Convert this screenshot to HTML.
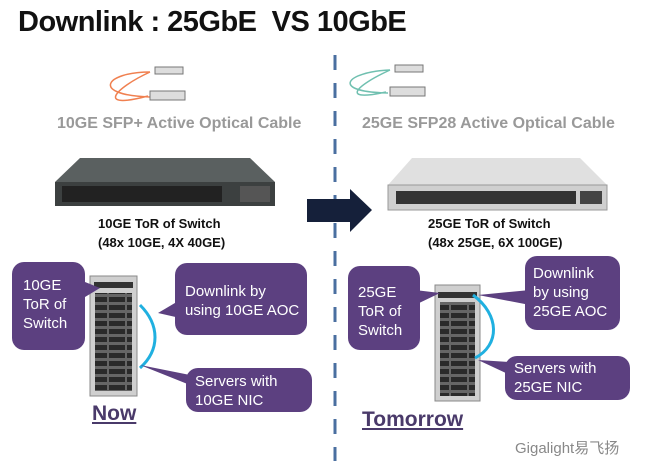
<!DOCTYPE html>
<html><head><style>
body{margin:0;width:645px;height:461px;background:#fff;overflow:hidden;position:relative;font-family:"Liberation Sans",sans-serif}
.a{position:absolute;white-space:nowrap}
.b{position:absolute;background:#5c4080;border-radius:12px;color:#fff;font-size:15px;line-height:19px;box-sizing:border-box}
</style></head><body>
<svg class="a" style="left:0;top:0" width="645" height="461">
<defs><pattern id="p" width="18" height="8" patternUnits="userSpaceOnUse"><rect width="18" height="8" fill="#666"/><rect x="1" y="1" width="16" height="5" fill="#2a2a2a"/></pattern></defs>
<line x1="335" y1="55" x2="335" y2="461" stroke="#4a6fa0" stroke-width="3" stroke-dasharray="15,13"/>
<g fill="none" stroke-width="1.5"><path d="M150 72 C105 72 90 95 150 97 M150 72 C115 88 95 110 148 96" stroke="#f08050"/>
<path d="M390 70 C345 72 330 92 388 93 M390 70 C355 86 340 102 386 92" stroke="#70c0b0"/></g>
<rect x="155" y="67" width="28" height="7" fill="#ddd" stroke="#777"/><rect x="150" y="91" width="35" height="9" fill="#ddd" stroke="#777"/>
<rect x="395" y="65" width="28" height="7" fill="#ddd" stroke="#777"/><rect x="390" y="87" width="35" height="9" fill="#ddd" stroke="#777"/>
<polygon points="80,158 250,158 275,182 55,182" fill="#5a6060"/><rect x="55" y="182" width="220" height="24" fill="#3c4040"/>
<rect x="62" y="186" width="160" height="16" fill="#222"/><rect x="240" y="186" width="30" height="16" fill="#555"/>
<polygon points="412,158 580,158 607,185 388,185" fill="#e0e0e0"/><rect x="388" y="185" width="219" height="25" fill="#cfcfcf" stroke="#999"/>
<rect x="396" y="191" width="180" height="13" fill="#333"/><rect x="580" y="191" width="22" height="13" fill="#444"/>
<polygon points="307,199 350,199 350,189 372,210 350,232 350,222 307,222" fill="#15203a"/>
<rect x="90" y="276" width="47" height="120" fill="#cfcfcf" stroke="#888"/>
<rect x="94" y="282" width="39" height="6" fill="#333"/>
<rect x="95" y="293" width="37" height="98" fill="url(#p)"/>
<rect x="435" y="285" width="45" height="116" fill="#cfcfcf" stroke="#888"/>
<rect x="438" y="292" width="39" height="6" fill="#333"/>
<rect x="440" y="302" width="35" height="94" fill="url(#p)"/>
<path d="M140 305 C160 325 160 350 140 368" fill="none" stroke="#20b0e0" stroke-width="3"/>
<path d="M473 295 C500 315 500 345 475 358" fill="none" stroke="#20b0e0" stroke-width="3"/>
<g fill="#5c4080"><polygon points="80,280 100,288 80,300"/><polygon points="180,300 158,313 180,318"/><polygon points="190,375 140,365 190,385"/>
<polygon points="415,290 440,293 415,305"/><polygon points="530,290 478,295 530,305"/><polygon points="510,362 478,360 510,375"/></g>
</svg>
<div class="a" style="left:18px;top:6px;font-size:29px;font-weight:bold;color:#111;letter-spacing:-0.5px">Downlink : 25GbE&nbsp; VS 10GbE</div>
<div class="a" style="left:57px;top:115px;font-size:16px;font-weight:bold;color:#999">10GE SFP+ Active Optical Cable</div>
<div class="a" style="left:362px;top:115px;font-size:16px;font-weight:bold;color:#999">25GE SFP28 Active Optical Cable</div>
<div class="a" style="left:98px;top:214px;font-size:13px;line-height:19px;font-weight:bold;color:#111">10GE ToR of Switch<br>(48x 10GE, 4X 40GE)</div>
<div class="a" style="left:428px;top:214px;font-size:13px;line-height:19px;font-weight:bold;color:#111">25GE ToR of Switch<br>(48x 25GE, 6X 100GE)</div>
<div class="b" style="left:12px;top:262px;width:73px;height:88px;padding:14px 0 0 11px">10GE<br>ToR of<br>Switch</div>
<div class="b" style="left:175px;top:263px;width:132px;height:72px;padding:19px 0 0 10px">Downlink by<br>using 10GE AOC</div>
<div class="b" style="left:186px;top:368px;width:126px;height:44px;padding:4px 0 0 9px">Servers with<br>10GE NIC</div>
<div class="a" style="left:92px;top:402px;font-size:21px;font-weight:bold;color:#4a3a6a;text-decoration:underline">Now</div>
<div class="b" style="left:348px;top:266px;width:72px;height:84px;padding:17px 0 0 10px">25GE<br>ToR of<br>Switch</div>
<div class="b" style="left:525px;top:256px;width:95px;height:74px;padding:8px 0 0 8px">Downlink<br>by using<br>25GE AOC</div>
<div class="b" style="left:505px;top:356px;width:125px;height:44px;padding:3px 0 0 9px">Servers with<br>25GE NIC</div>
<div class="a" style="left:362px;top:408px;font-size:21px;font-weight:bold;color:#4a3a6a;text-decoration:underline">Tomorrow</div>
<div class="a" style="left:515px;top:437px;font-size:15px;color:#888;font-family:'Liberation Sans','Noto Sans CJK SC',sans-serif">Gigalight易飞扬</div>
</body></html>
